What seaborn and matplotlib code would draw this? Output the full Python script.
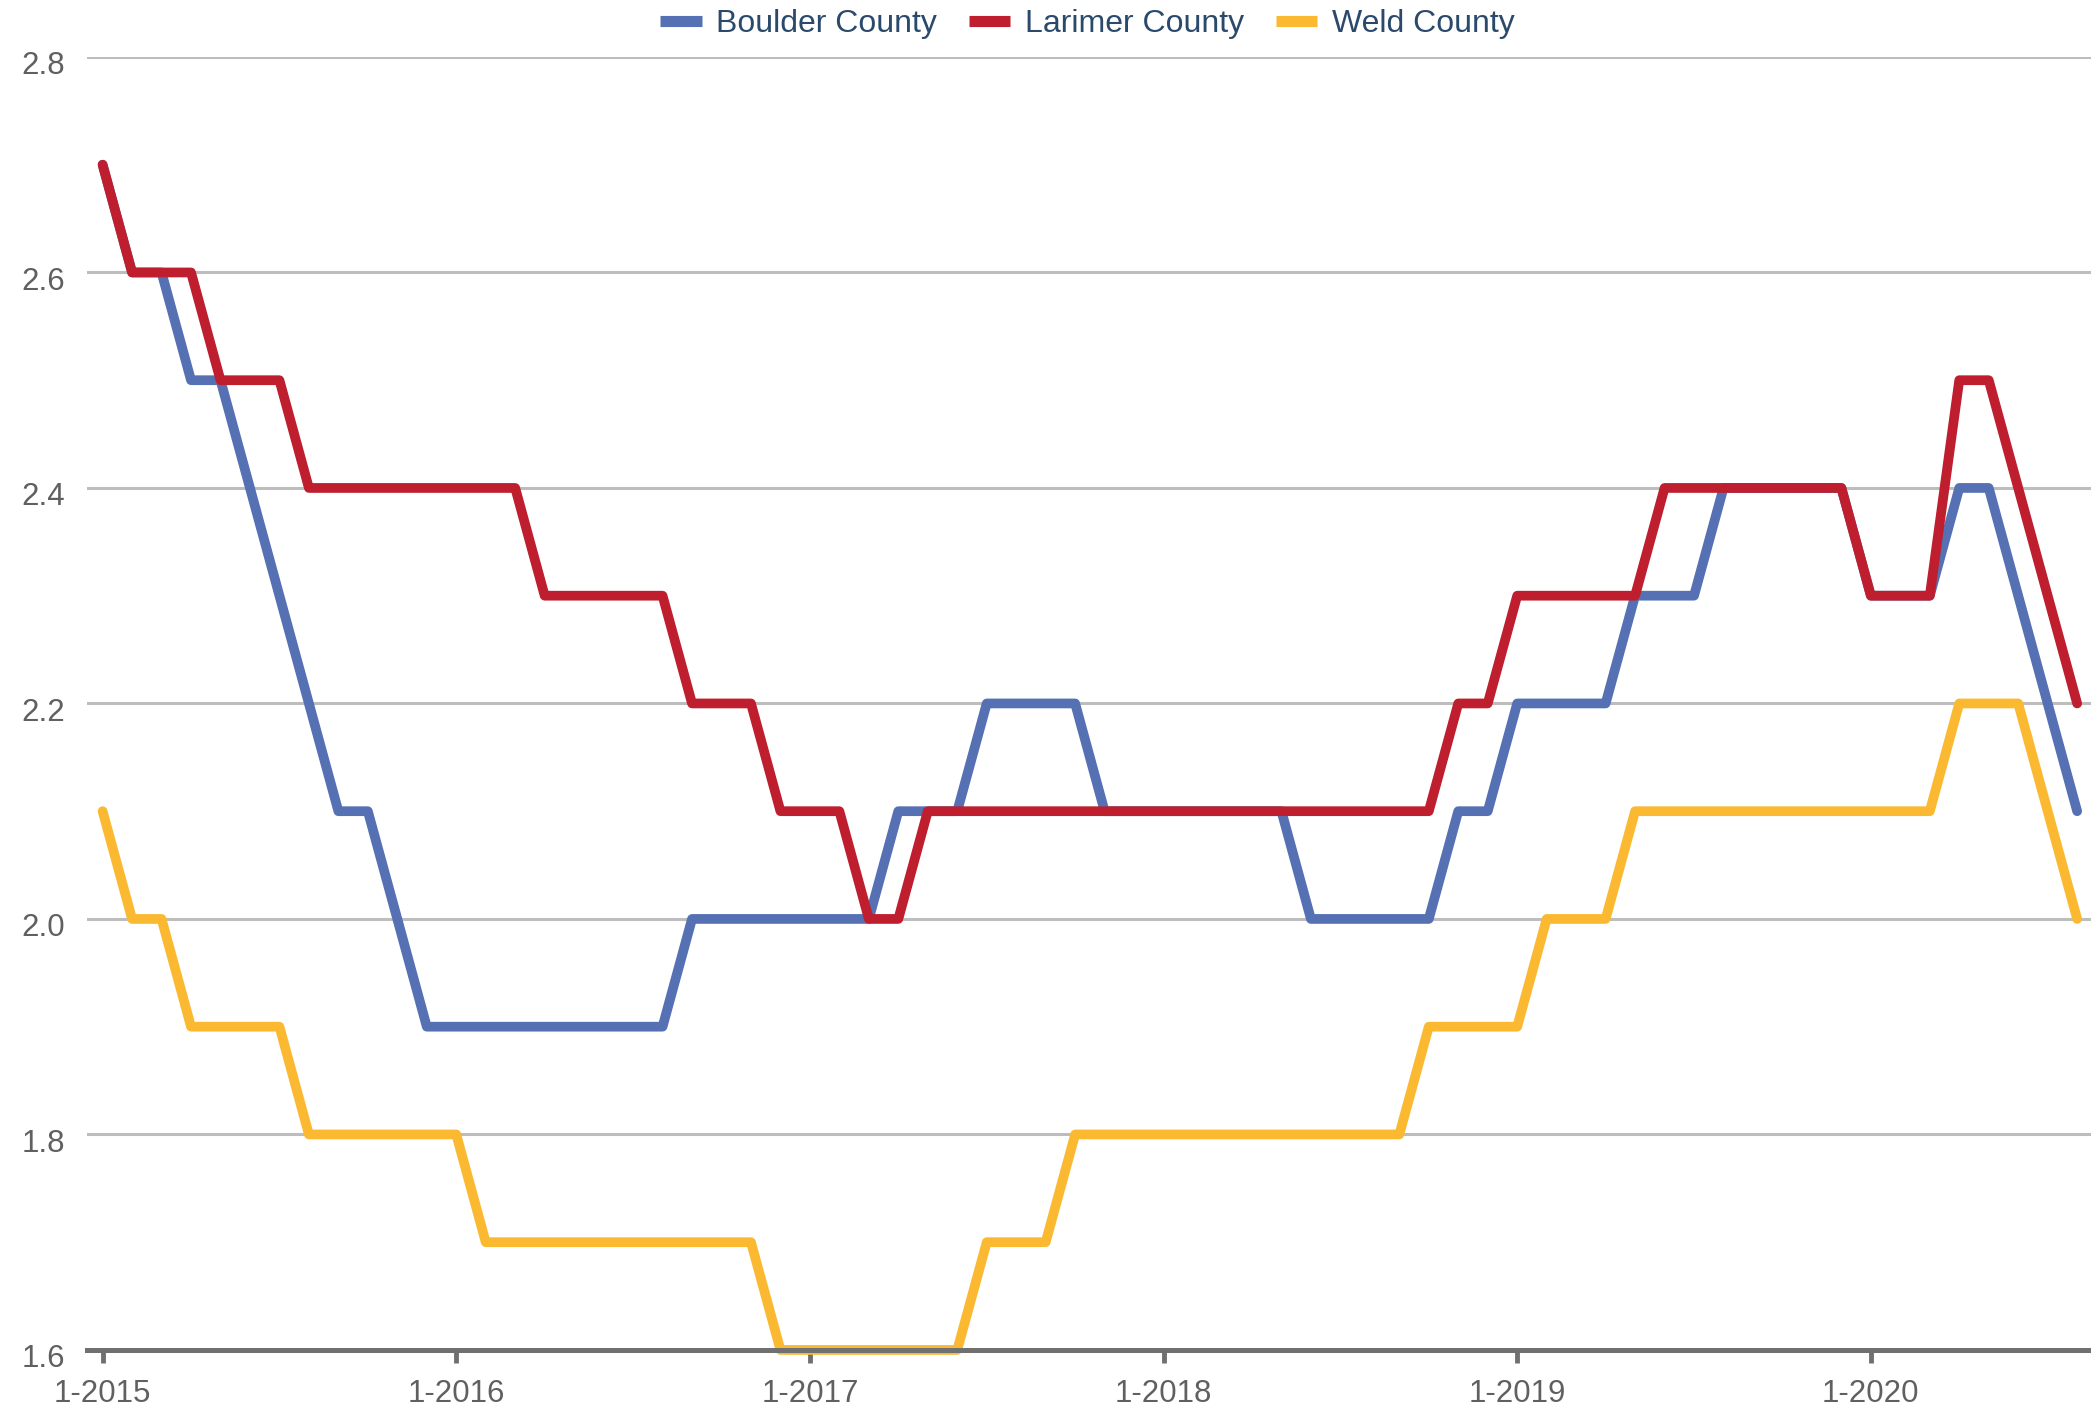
import pandas as pd
import matplotlib
matplotlib.use("Agg")
import matplotlib.pyplot as plt
import matplotlib.transforms as mtransforms
import seaborn as sns
from matplotlib.lines import Line2D

# monthly values, 1-2015 .. 8-2020
months = pd.date_range("2015-01-01", "2020-08-01", freq="MS")

boulder = [2.7, 2.6, 2.6, 2.5, 2.5, 2.4, 2.3, 2.2, 2.1, 2.1, 2.0, 1.9,
           1.9, 1.9, 1.9, 1.9, 1.9, 1.9, 1.9, 1.9, 2.0, 2.0, 2.0, 2.0,
           2.0, 2.0, 2.0, 2.1, 2.1, 2.1, 2.2, 2.2, 2.2, 2.2, 2.1, 2.1,
           2.1, 2.1, 2.1, 2.1, 2.1, 2.0, 2.0, 2.0, 2.0, 2.0, 2.1, 2.1,
           2.2, 2.2, 2.2, 2.2, 2.3, 2.3, 2.3, 2.4, 2.4, 2.4, 2.4, 2.4,
           2.3, 2.3, 2.3, 2.4, 2.4, 2.3, 2.2, 2.1]
larimer = [2.7, 2.6, 2.6, 2.6, 2.5, 2.5, 2.5, 2.4, 2.4, 2.4, 2.4, 2.4,
           2.4, 2.4, 2.4, 2.3, 2.3, 2.3, 2.3, 2.3, 2.2, 2.2, 2.2, 2.1,
           2.1, 2.1, 2.0, 2.0, 2.1, 2.1, 2.1, 2.1, 2.1, 2.1, 2.1, 2.1,
           2.1, 2.1, 2.1, 2.1, 2.1, 2.1, 2.1, 2.1, 2.1, 2.1, 2.2, 2.2,
           2.3, 2.3, 2.3, 2.3, 2.3, 2.4, 2.4, 2.4, 2.4, 2.4, 2.4, 2.4,
           2.3, 2.3, 2.3, 2.5, 2.5, 2.4, 2.3, 2.2]
weld = [2.1, 2.0, 2.0, 1.9, 1.9, 1.9, 1.9, 1.8, 1.8, 1.8, 1.8, 1.8,
        1.8, 1.7, 1.7, 1.7, 1.7, 1.7, 1.7, 1.7, 1.7, 1.7, 1.7, 1.6,
        1.6, 1.6, 1.6, 1.6, 1.6, 1.6, 1.7, 1.7, 1.7, 1.8, 1.8, 1.8,
        1.8, 1.8, 1.8, 1.8, 1.8, 1.8, 1.8, 1.8, 1.8, 1.9, 1.9, 1.9,
        1.9, 2.0, 2.0, 2.0, 2.1, 2.1, 2.1, 2.1, 2.1, 2.1, 2.1, 2.1,
        2.1, 2.1, 2.1, 2.2, 2.2, 2.2, 2.1, 2.0]

counties = ["Boulder County", "Larimer County", "Weld County"]
colors = ["#5570b3", "#be1e2d", "#fbb931"]
tick_years = [2015, 2016, 2017, 2018, 2019, 2020]

df = pd.DataFrame({"month": list(range(len(months))) * 3,
                   "value": boulder + larimer + weld,
                   "county": [c for c in counties for _ in months]})

sns.set_style("white")
plt.rcParams["font.family"] = ["Liberation Sans", "DejaVu Sans"]

fig = plt.figure(figsize=(20.91, 14.10), dpi=100)
ax = fig.add_axes([0.0416, 0.0426, 0.9584, 0.917])

sns.lineplot(data=df, x="month", y="value", hue="county",
             palette=dict(zip(counties, colors)), linewidth=7,
             legend=False, ax=ax, solid_joinstyle="round",
             solid_capstyle="round", clip_on=False, zorder=3)

ax.set_xlim(-0.53, 67.47)
ax.set_ylim(1.6, 2.8)
ax.set_yticks([1.6, 1.8, 2.0, 2.2, 2.4, 2.6, 2.8])
ax.set_yticklabels(["1.6", "1.8", "2.0", "2.2", "2.4", "2.6", "2.8"])
ax.set_xticks([12 * (y - 2015) for y in tick_years])
ax.set_xticklabels([f"1-{y}" for y in tick_years])
ax.set_xlabel("")
ax.set_ylabel("")

ax.grid(axis="y", color="#bdbdbd", linewidth=2.2)
ax.grid(axis="x", visible=False)
for s in ["top", "right", "left"]:
    ax.spines[s].set_visible(False)
ax.spines["bottom"].set_color("#707070")
ax.spines["bottom"].set_linewidth(3.6)
ax.spines["bottom"].set_zorder(4)

ax.tick_params(axis="x", bottom=True, colors="#707070", length=9, width=3.5,
               direction="out", labelsize=22.5, labelcolor="#606060", pad=12)
ax.tick_params(axis="y", left=False, length=0, labelsize=22.5, labelcolor="#606060", pad=16)
# y labels sit a little below their grid lines in the original
shift = mtransforms.ScaledTranslation(0, -6 / 100, fig.dpi_scale_trans)
for lbl in ax.get_yticklabels():
    lbl.set_verticalalignment("center_baseline")
    lbl.set_transform(lbl.get_transform() + shift)

handles = [Line2D([0], [0], color=c, linewidth=8, solid_capstyle="butt") for c in colors]
leg = fig.legend(handles, counties, loc="upper center", bbox_to_anchor=(0.52, 1.014),
                 ncol=3, frameon=False, fontsize=23, handlelength=1.3,
                 columnspacing=1.0, handletextpad=0.45)
for t in leg.get_texts():
    t.set_color("#2b4a6b")

fig.savefig("out.png", dpi=100)
